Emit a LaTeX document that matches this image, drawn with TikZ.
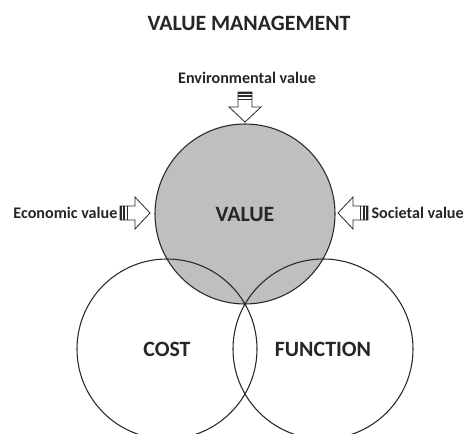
\documentclass[tikz,border=0pt]{standalone}
\usepackage{fontspec}
\setmainfont{Carlito}
\usetikzlibrary{positioning}
\definecolor{grigio}{RGB}{191,191,191}
\definecolor{linea}{RGB}{40,40,40}

\tikzset{
  grande/.style={font=\fontsize{16.4}{19}\selectfont\bfseries, text=black!85},
  cerchio/.style={circle, draw=linea, line width=0.8pt, minimum size=135pt, inner sep=0pt, grande},
  etichetta/.style={font=\fontsize{12.1}{14}\selectfont\bfseries, text=black!85, inner sep=1pt},
  freccia/.pic={
    \draw[linea, line width=0.6pt, fill=white]
      (-30,-7) -- (-15,-7) -- (-15,-16) -- (0,0) -- (-15,16) -- (-15,7) -- (-30,7) -- cycle;
    \fill[linea] (-30,-7) rectangle (-28.2,7);
    \fill[linea] (-27,-7) rectangle (-25,7);
    \draw[linea, line width=0.6pt] (-22.5,-7) -- (-22.5,7);
  }
}

\begin{document}
\begin{tikzpicture}[x=0.75pt, y=-0.75pt]
  \clip (0,0) rectangle (467,434);

  % Titolo
  \node[grande] (titolo) at (249,23) {VALUE MANAGEMENT};

  % Cerchi
  \node[cerchio, fill=grigio] (value) at (245,214) {VALUE};
  \node[cerchio] (cost) at (167,349) {};
  \node[cerchio] (function) at (323,349) {};
  \node[grande] (costlbl) at (167,349) {COST};
  \node[grande] (functionlbl) at (323,349) {FUNCTION};

  % Frecce verso VALUE
  \pic[rotate=-90] at (245,122) {freccia};
  \pic at (150,213) {freccia};
  \pic[rotate=180] at (338,213) {freccia};

  % Etichette
  \node[etichetta] (env) at (247,78) {Environmental value};
  \node[etichetta, anchor=east] (eco) at (119,213) {Economic value};
  \node[etichetta, anchor=west] (soc) at (370,213) {Societal value};
\end{tikzpicture}
\end{document}
